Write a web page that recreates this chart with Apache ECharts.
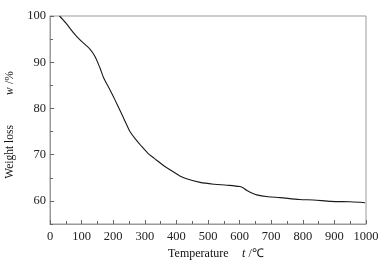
<!DOCTYPE html>
<html><head><meta charset="utf-8">
<script src="https://cdn.jsdelivr.net/npm/echarts@6/dist/echarts.min.js"></script>
<style>html,body{margin:0;padding:0;background:#fff}#c{width:391px;height:264px}</style>
</head><body><div id="c"></div>
<script>
var temps = [30,50,80,100,127,142,158,170,190,206,222,237,253,270,285,310,330,360,390,411,432,475,520,560,601,612,622,635,654,690,728,790,833,890,950,997];
var weights = [100,98.5,95.9,94.5,92.8,91.3,88.8,86.6,84,81.8,79.5,77.3,75,73.4,72.2,70.3,69.2,67.6,66.3,65.4,64.8,64.0,63.6,63.4,63.1,62.8,62.3,61.8,61.3,60.9,60.7,60.3,60.2,59.9,59.8,59.6];
var yLabels = [60,70,80,90,100];
var xName = 'Temperature';
var yName = 'Weight loss';

var data = temps.map(function(t,i){return [t,weights[i]];});
var font = 'Liberation Serif';
var chart = echarts.init(document.getElementById('c'));
chart.setOption({
  animation:false,
  grid:{left:50,right:25,top:16,bottom:40,show:true,borderColor:'#9a9a9a',borderWidth:1,outerBoundsMode:'none',containLabel:false},
  xAxis:{type:'value',min:0,max:1000,interval:100,
    name:'{a|'+xName+'}    {b|t} {a|/℃}',nameLocation:'middle',nameGap:20,
    nameTextStyle:{padding:[0,0,0,16],rich:{a:{fontFamily:font,fontSize:12,color:'#111'},b:{fontFamily:font,fontSize:12,fontStyle:'italic',color:'#111'}}},
    axisLine:{lineStyle:{color:'#9a9a9a',width:1}},
    axisTick:{inside:true,length:4,lineStyle:{color:'#666'}},
    minorTick:{show:true,splitNumber:2,length:3,lineStyle:{color:'#666'}},
    splitLine:{show:false},
    axisLabel:{fontFamily:font,fontSize:12.5,color:'#222',margin:6,formatter:function(v){return String(v);}}},
  yAxis:[{type:'value',min:55,max:100,
    name:'{a|'+yName+'}         {b|w} {a|/%}',nameLocation:'middle',nameGap:25,nameRotate:90,
    nameTextStyle:{padding:[0,10,0,0],rich:{a:{fontFamily:font,fontSize:11.5,color:'#111'},b:{fontFamily:font,fontSize:11.5,fontStyle:'italic',color:'#111'}}},
    axisLine:{show:true,lineStyle:{color:'#9a9a9a',width:1}},
    axisTick:{show:true,inside:true,length:4,customValues:yLabels,lineStyle:{color:'#666'}},
    axisLabel:{fontFamily:font,fontSize:12.5,color:'#222',margin:4,customValues:yLabels},
    splitLine:{show:false}},
   {type:'value',min:55,max:100,interval:5,position:'left',
    axisLine:{show:false},axisTick:{show:true,inside:true,length:3,lineStyle:{color:'#666'}},
    axisLabel:{show:false},splitLine:{show:false}}],
  series:[{type:'line',data:data,smooth:0.3,showSymbol:false,symbol:'none',
    lineStyle:{color:'#1a1a1a',width:1.1}}]
});
</script></body></html>
